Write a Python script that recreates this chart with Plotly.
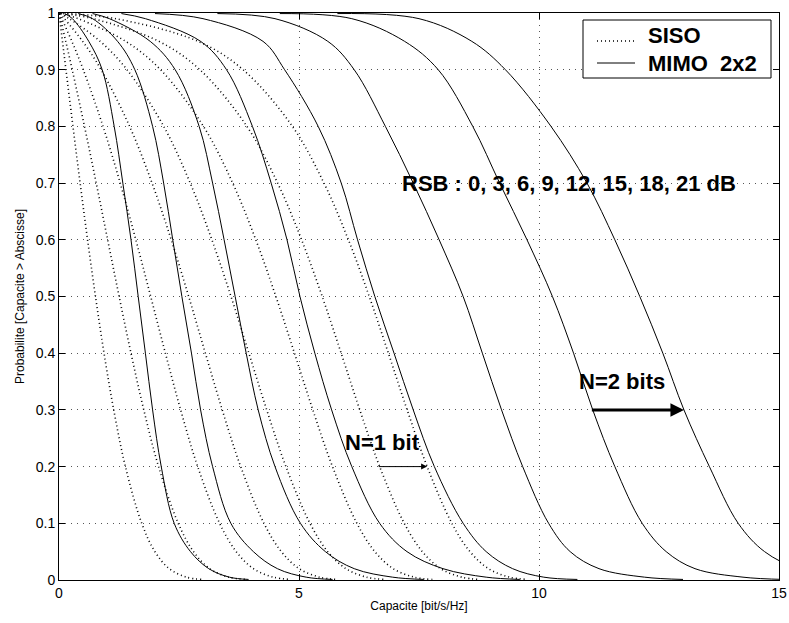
import plotly.graph_objects as go

# Probability levels P(C > c) at which each capacity curve is sampled
prob_levels = [0.999, 0.99, 0.95, 0.9, 0.8, 0.7, 0.6, 0.5, 0.4, 0.3, 0.2, 0.1,
               0.05, 0.02, 0.005, 0.001]

rsb_db = [0, 3, 6, 9, 12, 15, 18, 21]

# SISO capacity (bit/s/Hz) at each probability level, one list per RSB
siso_0 = [0.0014, 0.0144, 0.0722, 0.1445, 0.2906, 0.4401, 0.5953, 0.7597, 0.9384, 1.1402, 1.3837, 1.7236, 1.9985, 2.2963, 2.6550, 2.9833]
siso_3 = [0.0029, 0.0287, 0.1406, 0.2753, 0.5313, 0.7754, 1.0138, 1.2528, 1.4999, 1.7665, 2.0743, 2.4840, 2.8027, 3.1384, 3.5325, 3.8858]
siso_6 = [0.0057, 0.0566, 0.2681, 0.5053, 0.9172, 1.2750, 1.6011, 1.9105, 2.2166, 2.5343, 2.8890, 3.3458, 3.6923, 4.0508, 4.4655, 4.8329]
siso_9 = [0.0114, 0.1108, 0.4930, 0.8773, 1.4712, 1.9385, 2.3385, 2.7018, 3.0494, 3.4010, 3.7850, 4.2698, 4.6320, 5.0034, 5.4292, 5.8040]
siso_12 = [0.0227, 0.2132, 0.8583, 1.4168, 2.1816, 2.7340, 3.1853, 3.5833, 3.9563, 4.3278, 4.7284, 5.2286, 5.5993, 5.9773, 6.4090, 6.7877]
siso_15 = [0.0449, 0.3982, 1.3906, 2.1150, 3.0101, 3.6182, 4.1005, 4.5186, 4.9058, 5.2881, 5.6976, 6.2059, 6.5810, 6.9625, 7.3971, 7.7778]
siso_18 = [0.0883, 0.7085, 2.0828, 2.9351, 3.9145, 4.5549, 5.0545, 5.4834, 5.8781, 6.2662, 6.6802, 7.1927, 7.5700, 7.9533, 8.3894, 8.7710]
siso_21 = [0.1712, 1.1796, 2.8986, 3.8343, 4.8626, 5.5205, 6.0292, 6.4637, 6.8624, 7.2533, 7.6697, 8.1843, 8.5628, 8.9469, 9.3837, 9.7659]

# MIMO 2x2 capacity (bit/s/Hz) at each probability level, one list per RSB
mimo_0 = [0.12, 0.28, 0.62, 0.90, 1.15, 1.33, 1.50, 1.65, 1.80, 1.95, 2.13, 2.40, 2.74, 3.12, 3.55, 3.95]
mimo_3 = [0.40, 0.70, 1.22, 1.58, 1.95, 2.18, 2.37, 2.56, 2.76, 2.95, 3.20, 3.58, 4.05, 4.55, 5.15, 5.70]
mimo_6 = [0.70, 1.05, 1.90, 2.42, 2.92, 3.20, 3.44, 3.67, 3.90, 4.15, 4.50, 5.03, 5.55, 6.15, 6.95, 7.60]
mimo_9 = [1.30, 1.80, 2.95, 3.49, 4.03, 4.42, 4.75, 5.02, 5.33, 5.68, 6.10, 6.68, 7.25, 8.00, 8.90, 9.60]
mimo_12 = [2.00, 3.00, 4.25, 4.70, 5.40, 5.88, 6.22, 6.58, 6.98, 7.38, 7.82, 8.42, 8.90, 9.45, 10.10, 10.80]
mimo_15 = [3.30, 4.50, 5.60, 6.15, 6.80, 7.38, 7.92, 8.42, 8.82, 9.22, 9.66, 10.20, 10.65, 11.25, 12.20, 13.00]
mimo_18 = [4.60, 6.10, 7.20, 7.90, 8.62, 9.18, 9.75, 10.28, 10.72, 11.12, 11.58, 12.15, 12.65, 13.25, 14.25, 15.10]
mimo_21 = [5.80, 7.50, 8.60, 9.30, 10.25, 11.00, 11.58, 12.10, 12.58, 13.02, 13.55, 14.15, 14.70, 15.40, 16.40, 17.30]

siso_curves = [siso_0, siso_3, siso_6, siso_9, siso_12, siso_15, siso_18, siso_21]
mimo_curves = [mimo_0, mimo_3, mimo_6, mimo_9, mimo_12, mimo_15, mimo_18, mimo_21]

x_ticks = [0, 5, 10, 15]
y_ticks = [0, 0.1, 0.2, 0.3, 0.4, 0.5, 0.6, 0.7, 0.8, 0.9, 1]

FONT = "Liberation Sans, Arial, Helvetica, sans-serif"
DOT = "1px,3px"

fig = go.Figure()

for db, cap in zip(rsb_db, siso_curves):
    fig.add_trace(go.Scatter(
        x=cap, y=prob_levels, mode="lines",
        line=dict(color="black", width=1.6, dash=DOT, shape="spline", smoothing=1.0),
        name=f"SISO {db} dB", showlegend=False,
        hovertemplate=f"SISO {db} dB<br>C=%{{x:.2f}}<br>P=%{{y:.3f}}<extra></extra>",
    ))

for db, cap in zip(rsb_db, mimo_curves):
    fig.add_trace(go.Scatter(
        x=cap, y=prob_levels, mode="lines",
        line=dict(color="black", width=1, shape="spline", smoothing=1.0),
        name=f"MIMO 2x2 {db} dB", showlegend=False,
        hovertemplate=f"MIMO 2x2 {db} dB<br>C=%{{x:.2f}}<br>P=%{{y:.3f}}<extra></extra>",
    ))

bold = dict(family=FONT, size=22, color="black", weight="bold")

fig.add_annotation(x=10.62, y=0.70, xref="x", yref="y", text="RSB : 0, 3, 6, 9, 12, 15, 18, 21 dB",
                   showarrow=False, font=bold)

# N=1 bit: shift between the two highest-RSB SISO curves at P = 0.2
fig.add_annotation(x=siso_21[10], y=0.2, ax=siso_18[10] - 0.05, ay=0.2, xref="x", yref="y",
                   axref="x", ayref="y", text="", showarrow=True, arrowhead=2,
                   arrowsize=1.2, arrowwidth=1, arrowcolor="black")
fig.add_annotation(x=6.74, y=0.243, xref="x", yref="y", text="N=1 bit", showarrow=False, font=bold)

# N=2 bits: shift between the two highest-RSB MIMO curves at P = 0.3
fig.add_annotation(x=mimo_21[9], y=0.3, ax=mimo_18[9] - 0.05, ay=0.3, xref="x", yref="y",
                   axref="x", ayref="y", text="", showarrow=True, arrowhead=2,
                   arrowsize=0.9, arrowwidth=3, arrowcolor="black")
fig.add_annotation(x=11.73, y=0.35, xref="x", yref="y", text="N=2 bits", showarrow=False, font=bold)

# Legend box drawn in paper coordinates (plot area is 720 x 567 px)
def px(x):
    return (x - 59) / 720.0

def py(y):
    return (580 - y) / 567.0

fig.add_shape(type="rect", xref="paper", yref="paper", x0=px(583), x1=px(771), y0=py(78), y1=py(20),
              line=dict(color="black", width=1), fillcolor="white", layer="above")
fig.add_shape(type="line", xref="paper", yref="paper", x0=px(597), x1=px(635), y0=py(41), y1=py(41),
              line=dict(color="black", width=1.6, dash=DOT), layer="above")
fig.add_shape(type="line", xref="paper", yref="paper", x0=px(597), x1=px(635), y0=py(63), y1=py(63),
              line=dict(color="black", width=1), layer="above")
fig.add_annotation(x=px(646), y=py(35), xref="paper", yref="paper", text="SISO",
                   showarrow=False, xanchor="left", yanchor="middle", font=bold)
fig.add_annotation(x=px(646), y=py(63), xref="paper", yref="paper", text="MIMO\u00a0\u00a02x2",
                   showarrow=False, xanchor="left", yanchor="middle", font=bold)

axis_common = dict(
    showline=True, linecolor="black", linewidth=1, mirror="ticks",
    ticks="inside", ticklen=6, tickwidth=1, tickcolor="black",
    showgrid=True, gridcolor="#555555", gridwidth=1, griddash="1px,5px",
    zeroline=False, automargin=False, tickfont=dict(family=FONT, size=14, color="black"),
)

fig.update_xaxes(range=[0, 15], tickvals=x_ticks, ticktext=[str(v) for v in x_ticks],
                 title=dict(text="Capacite [bit/s/Hz]", font=dict(family=FONT, size=12, color="black"), standoff=1),
                 **axis_common)
fig.update_yaxes(range=[0, 1], tickvals=y_ticks, ticktext=["0"] + [f"{v:g}" for v in y_ticks[1:]],
                 title=dict(text="Probabilite [Capacite > Abscisse]", font=dict(family=FONT, size=12, color="black"), standoff=8),
                 **axis_common)

fig.update_layout(
    width=789, height=623, autosize=False,
    margin=dict(l=59, r=10, t=13, b=43, autoexpand=False),
    paper_bgcolor="white", plot_bgcolor="white",
    showlegend=False,
    font=dict(family=FONT, color="black"),
)

fig.write_html("out.html")
